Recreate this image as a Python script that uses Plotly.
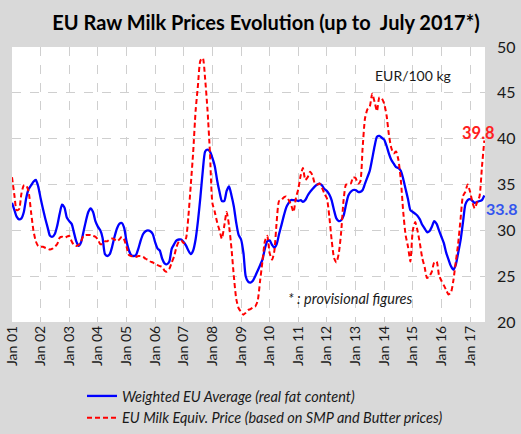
import pandas as pd
import plotly.graph_objects as go

months = pd.date_range("2001-01-01", periods=199, freq="MS").strftime("%Y-%m-%d").tolist()

weighted_avg = [
    33.0, 32.2, 31.5, 31.2, 31.3, 32.0, 33.5, 34.5, 34.9, 35.3, 35.5, 34.8,
    33.5, 32.3, 31.3, 30.3, 29.4, 29.3, 29.6, 30.5, 31.8, 32.8, 32.5, 31.4,
    31.0, 30.7, 29.8, 28.8, 28.3, 28.7, 29.8, 31.0, 32.0, 32.4, 32.0, 31.0,
    30.4, 30.0, 29.2, 27.4, 27.2, 27.4, 28.2, 29.3, 30.2, 30.7, 30.8, 30.3,
    28.8, 27.8, 27.3, 27.2, 27.3, 28.0, 28.9, 29.6, 29.9, 30.0, 29.9, 29.6,
    28.7, 28.0, 27.8, 26.9, 26.4, 26.3, 26.6, 28.0, 28.5, 28.9, 29.0, 29.0,
    28.7, 28.3, 27.8, 27.4, 27.8, 29.0, 31.0, 33.6, 36.5, 38.6, 38.8, 38.6,
    37.9, 37.0, 35.5, 34.2, 33.2, 33.2, 34.3, 34.8, 33.8, 32.6, 30.8, 29.5,
    29.0, 27.5, 25.0, 24.4, 24.3, 24.5, 25.0, 25.6, 26.2, 26.8, 28.0, 28.8,
    28.9, 28.4, 28.1, 28.5, 29.6, 30.6, 31.6, 32.5, 33.0, 33.3, 33.3, 33.3,
    33.2, 33.3, 33.1, 33.3, 33.8, 34.2, 34.5, 34.8, 35.0, 35.1, 34.9, 34.5,
    34.3, 33.9, 33.3, 32.2, 31.3, 31.0, 31.1, 31.6, 32.8, 33.8, 34.2, 34.4,
    34.4, 34.2, 34.2, 34.4, 35.1, 35.8, 36.5, 37.8, 39.2, 40.2, 40.3, 40.1,
    39.9, 39.2, 38.4, 37.7, 37.3, 36.9, 36.8, 36.5, 35.6, 34.5, 33.4, 32.2,
    32.0, 31.8, 31.6, 31.2, 30.6, 30.2, 29.8, 29.9, 30.4, 31.0, 30.7, 30.0,
    29.3, 28.6, 27.6, 26.8, 26.1, 25.7, 26.2, 27.5, 28.9, 30.8, 32.8, 33.3,
    33.4, 33.2, 33.0, 33.1, 33.2, 33.3, 33.8,
]

milk_equiv = [
    35.8, 33.8, 32.2, 32.3, 34.0, 34.9, 34.9, 34.2, 32.0, 30.0, 28.8, 28.3,
    28.2, 28.2, 28.1, 28.0, 27.9, 28.0, 28.2, 28.5, 29.2, 29.3, 29.2, 29.3,
    29.4, 28.8, 28.4, 28.3, 28.4, 28.8, 29.4, 29.5, 29.5, 29.5, 29.4, 29.3,
    29.0, 28.5, 28.5, 28.8, 28.8, 29.0, 29.1, 29.0, 28.8, 29.0, 29.3, 29.0,
    28.2, 27.3, 27.2, 27.1, 27.1, 27.2, 27.2, 27.1, 26.9, 26.8, 26.6, 26.5,
    26.3, 26.2, 26.1, 26.0, 25.6, 25.5, 25.8, 26.5, 27.2, 28.2, 28.8, 28.9,
    28.6, 29.2, 31.5, 35.0, 38.5, 43.0, 45.8, 48.5, 48.8, 46.5, 43.0, 38.5,
    33.0, 32.0, 30.9, 30.0, 29.1, 30.5, 32.0, 30.5, 28.0, 25.0, 22.5, 21.5,
    21.1, 20.8, 21.0, 21.3, 21.4, 21.6, 21.7, 22.3, 24.5, 26.6, 28.8, 29.4,
    27.5, 26.8, 27.7, 31.0, 33.2, 33.3, 33.6, 33.7, 33.3, 32.8, 32.0, 33.5,
    34.5, 36.0, 36.8, 35.5, 35.8, 36.4, 36.0, 35.1, 35.0, 35.1, 34.6, 34.0,
    33.5, 31.5, 29.0, 27.0, 26.5, 27.5, 29.8, 33.3, 35.0, 35.0, 35.1, 35.8,
    35.7, 35.1, 35.3, 39.0, 42.2, 43.2, 43.5, 44.9, 44.0, 43.0, 44.5, 44.4,
    43.8, 42.5, 40.5, 39.0, 38.4, 38.6, 37.7, 35.5, 32.0, 29.5, 28.2, 26.6,
    30.0, 30.9, 30.0, 28.6, 27.0, 26.0, 24.8, 25.0, 25.5, 26.5, 26.6, 25.1,
    24.5, 24.0, 23.5, 23.0, 23.2, 24.5, 26.5, 28.5, 31.2, 33.7, 34.2, 35.0,
    34.2, 33.0, 32.4, 33.1, 33.7, 36.9, 39.8,
]

series_names = [
    "Weighted EU Average (real fat content)",
    "EU Milk Equiv. Price (based on SMP and Butter prices)",
]
y_ticks = [20, 25, 30, 35, 40, 45, 50]

FONT = "Lato"
PLOT_L, PLOT_R, PLOT_T, PLOT_B = 12, 485, 47, 322
PW, PH = PLOT_R - PLOT_L, PLOT_B - PLOT_T


def px_x(px):
    return (px - PLOT_L) / PW


def px_y(py):
    return (PLOT_B - py) / PH


fig = go.Figure()
fig.add_trace(go.Scatter(
    x=months, y=weighted_avg, name=series_names[0], mode="lines",
    line=dict(color="#0000ff", width=2.3, shape="spline", smoothing=0.6),
))
fig.add_trace(go.Scatter(
    x=months, y=milk_equiv, name=series_names[1], mode="lines",
    line=dict(color="#ff0000", width=2, dash="5px,3px", shape="spline", smoothing=0.6),
))

fig.update_layout(
    width=521, height=434,
    margin=dict(l=PLOT_L, r=521 - PLOT_R, t=PLOT_T, b=434 - PLOT_B, autoexpand=False),
    paper_bgcolor="#d9d9d9", plot_bgcolor="#ffffff",
    font=dict(family=FONT, color="#1a1a1a"),
    title=dict(
        text="<b>EU Raw Milk Prices Evolution (up to  July 2017*)</b>",
        x=266 / 521, xanchor="center", xref="container", y=1 - 23 / 434, yanchor="middle",
        font=dict(size=20, family=FONT, color="#000000"),
    ),
    showlegend=True,
    legend=dict(
        x=px_x(82), y=px_y(380),
        xanchor="left", yanchor="top", bgcolor="rgba(0,0,0,0)",
        font=dict(size=14.5, family=FONT, color="#1a1a1a", style="italic"),
        tracegroupgap=0,
    ),
    xaxis=dict(
        type="date", range=["2001-01-01", "2017-07-10"],
        tickmode="linear", tick0="2001-01-01", dtick="M12", tickformat="%b %y",
        tickangle=-90, tickfont=dict(size=14, family=FONT, color="#1a1a1a"),
        showgrid=True, gridcolor="#cfcfcf", griddash="dash", gridwidth=1,
        zeroline=False, showline=False, ticks="", automargin=False,
    ),
    yaxis=dict(
        range=[20, 50], tickvals=y_ticks, side="right",
        tickfont=dict(size=16, family=FONT, color="#1a1a1a"),
        showgrid=True, gridcolor="#cfcfcf", griddash="dash", gridwidth=1,
        zeroline=False, showline=False, ticks="", ticklabelstandoff=11,
        automargin=False,
    ),
)

fig.add_annotation(x=px_x(413), y=px_y(75), xref="paper", yref="paper",
                   text="EUR/100 kg", showarrow=False, xanchor="center", yanchor="middle",
                   font=dict(size=14, family=FONT, color="#1a1a1a"))
fig.add_annotation(xref="x", yref="y", x=months[115], y=22.6,
                   text="* : provisional figures", showarrow=False,
                   xanchor="left", yanchor="middle",
                   font=dict(size=14.5, family=FONT, color="#1a1a1a", style="italic"))
fig.add_annotation(xref="paper", yref="paper", x=px_x(497), y=px_y(133),
                   text="<b>%.1f</b>" % milk_equiv[-1], showarrow=False,
                   xanchor="right", yanchor="middle",
                   font=dict(size=16.5, family=FONT, color="#ff2020"))
fig.add_annotation(xref="paper", yref="paper", x=px_x(520), y=px_y(208),
                   text="<b>%.1f</b>" % weighted_avg[-1], showarrow=False,
                   xanchor="right", yanchor="middle",
                   font=dict(size=16, family=FONT, color="#3355ee"))

fig.write_html(
    "out.html",
    config={"displayModeBar": False},
    post_script="document.body.style.margin='0';document.body.style.overflow='hidden';",
)
